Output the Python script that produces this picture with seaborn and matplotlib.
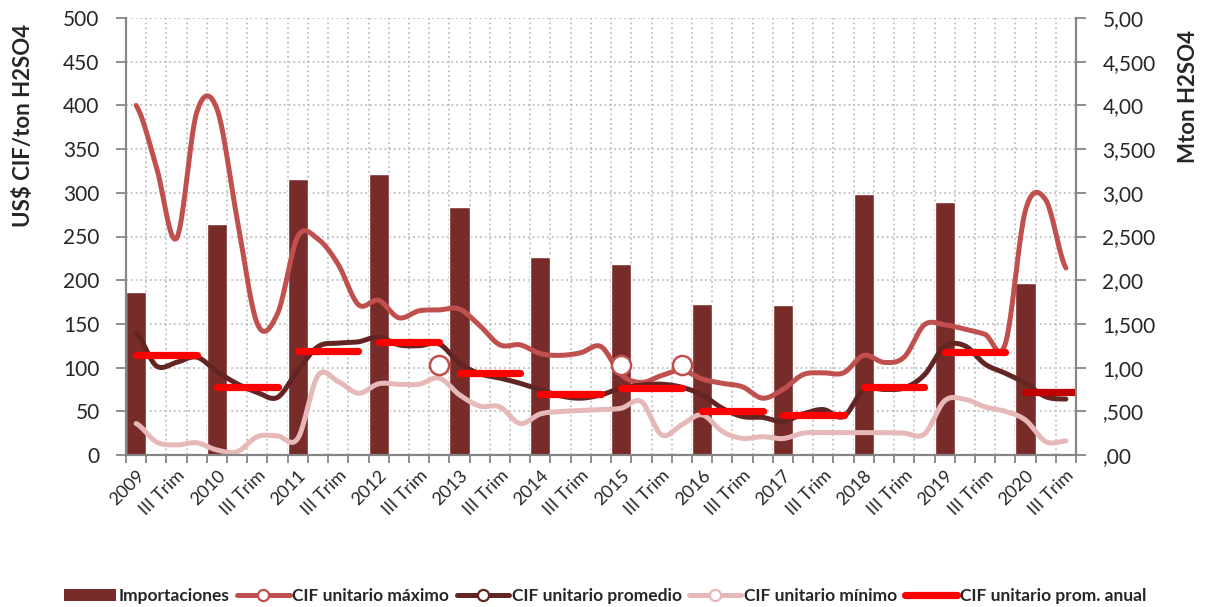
import numpy as np
import pandas as pd
import matplotlib
matplotlib.use("Agg")
import matplotlib.pyplot as plt
import seaborn as sns
from matplotlib.lines import Line2D
from matplotlib.patches import Patch
from matplotlib.ticker import FixedLocator

# ---------------------------------------------------------------
# data (47 quarters: I Trim 2009 .. III Trim 2020)
# ---------------------------------------------------------------
years = list(range(2009, 2021))
x_labels = []
for y in years:
    x_labels += [str(y), "III Trim"]

# annual imports, Mton H2SO4 (bar at I Trim of each year)
importaciones = [1.87, 2.64, 3.16, 3.21, 2.84, 2.26, 2.19, 1.73, 1.72, 2.99, 2.89, 1.97]

cif_max = [400, 330, 248, 392, 396, 270, 150, 162, 250, 247, 218, 172,
           177, 157, 165, 166, 167, 148, 126, 126, 116, 114, 117, 124,
           92, 83, 91, 97, 87, 82, 78, 65, 75, 92, 94, 94,
           114, 106, 112, 149, 149, 144, 138, 127, 280, 292, 214]
cif_prom = [139.5, 102, 106, 112, 95.5, 81.5, 71.6, 66, 97, 124, 128, 129.5,
            135, 126, 125, 127, 105, 93, 88, 82, 74.5, 67.6, 65, 68.8,
            76.5, 80, 81, 77.5, 68.8, 53.5, 44, 43, 38.3, 47, 52, 44,
            74.6, 75, 76.7, 91.7, 124, 125, 104, 93.6, 82, 66.7, 64]
cif_min = [36, 15, 11.5, 14, 5.7, 3.8, 21, 21.8, 19, 91, 84, 70.7,
           81.5, 81, 81, 88, 68.8, 56, 55, 36, 47, 49.7, 51, 52,
           53.5, 61, 23, 34.6, 46, 27, 19, 21, 18.8, 25, 25.6, 25.6,
           25.6, 25.6, 25, 24, 62, 63.8, 55, 50, 40, 15.3, 16]
cif_anual = [114.7, 77.6, 118.5, 129, 93.7, 70, 76.4, 50.5, 45.5, 78.3, 117.3, 72.6]

# stray point markers left in the original chart
marcadores_k = [15, 24, 27]
marcadores_v = [103, 103, 103]

right_labels = [",00", ",500", "1,00", "1,500", "2,00", "2,500",
                "3,00", "3,500", "4,00", "4,500", "5,00"]

n_q = len(cif_max)
bar_pos = [4 * i for i in range(len(years))]

C_BAR = "#772C2A"
C_MAX = "#C0504D"
C_PROM = "#632523"
C_MIN = "#E6B9B8"
C_ANUAL = "#FF0000"
C_ANUAL_LAST = "#C00000"
C_AXIS = "#868686"
C_GRID = "#BFBFBF"


def smooth(vals, n=20):
    """catmull-rom like Excel's smoothed line"""
    v = np.asarray(vals, float)
    p = np.concatenate([[v[0]], v, [v[-1]]])
    t = np.linspace(0, 1, n, endpoint=False)
    h00 = 2 * t**3 - 3 * t**2 + 1
    h10 = t**3 - 2 * t**2 + t
    h01 = -2 * t**3 + 3 * t**2
    h11 = t**3 - t**2
    xs, ys = [], []
    for i in range(len(v) - 1):
        p0, p1, p2, p3 = p[i], p[i + 1], p[i + 2], p[i + 3]
        m1 = (p2 - p0) / 2
        m2 = (p3 - p1) / 2
        ys.extend(h00 * p1 + h10 * m1 + h01 * p2 + h11 * m2)
        xs.extend(i + t)
    xs.append(len(v) - 1)
    ys.append(v[-1])
    return np.array(xs), np.array(ys)


sns.set_style("white")
plt.rcParams["font.family"] = ["Lato", "DejaVu Sans"]

fig = plt.figure(figsize=(12.06, 6.07), dpi=100)
L, R, T, B = 126 / 1206, 1076 / 1206, 1 - 18 / 607, 1 - 455 / 607
ax_b = fig.add_axes([L, B, R - L, T - B])
ax_l = ax_b.twinx()

# bars (right axis)
df_bar = pd.DataFrame({"k": bar_pos, "imp": importaciones})
sns.barplot(data=df_bar, x="k", y="imp", native_scale=True, width=0.25,
            color=C_BAR, saturation=1, errorbar=None, ax=ax_b, zorder=2)

# smoothed lines (left axis)
for vals, col in [(cif_max, C_MAX), (cif_prom, C_PROM), (cif_min, C_MIN)]:
    xs, ys = smooth(vals)
    sns.lineplot(x=xs, y=ys, ax=ax_l, color=col, lw=3.6, sort=False,
                 estimator=None, solid_capstyle="round")

# annual average segments
for i, v in enumerate(cif_anual):
    ks = [4 * i + q for q in range(4)]
    col = C_ANUAL_LAST if i == len(cif_anual) - 1 else C_ANUAL
    sns.lineplot(x=ks, y=[v] * 4, ax=ax_l, color=col, lw=5.2, sort=False,
                 estimator=None, solid_capstyle="round")

sns.scatterplot(x=marcadores_k, y=marcadores_v, ax=ax_l, s=190, color="white",
                edgecolor=C_MAX, linewidth=1.8, zorder=6)

# axes setup
ax_b.yaxis.tick_right()
ax_b.yaxis.set_label_position("right")
ax_l.yaxis.tick_left()
ax_l.yaxis.set_label_position("left")

ax_b.set_xlim(-0.5, n_q - 0.5)
ax_b.set_ylim(0, 5)
ax_l.set_ylim(0, 500)

ax_l.set_yticks(np.arange(0, 501, 50))
ax_b.set_yticks(np.arange(0, 5.01, 0.5))
ax_b.set_yticklabels(right_labels)

ax_b.set_xticks(np.arange(0, n_q, 2))
ax_b.set_xticklabels(x_labels, rotation=45, ha="right", rotation_mode="anchor")
ax_b.xaxis.set_minor_locator(FixedLocator(np.arange(-0.5, n_q, 1)))

ax_b.set_axisbelow(True)
ax_b.grid(True, axis="y", which="major", linestyle=":", color=C_GRID, lw=1.3)
ax_b.grid(True, axis="x", which="minor", linestyle=":", color=C_GRID, lw=1.3)
ax_b.grid(False, axis="x", which="major")

ax_b.tick_params(axis="x", which="major", length=0, pad=9, labelsize=13)
ax_b.tick_params(axis="x", which="minor", length=6, width=1.3, color=C_AXIS,
                 direction="out", bottom=True)
ax_b.tick_params(axis="y", length=7, width=1.3, color=C_AXIS, direction="out",
                 labelsize=15, pad=12)
ax_l.tick_params(axis="y", length=7, width=1.3, color=C_AXIS, direction="out",
                 labelsize=15, pad=12)

for a in (ax_b, ax_l):
    a.spines["top"].set_visible(False)
    for s in ("left", "right", "bottom"):
        a.spines[s].set_color(C_AXIS)
        a.spines[s].set_linewidth(1.5)
ax_b.set_xlabel("")

ax_l.set_ylabel("US$ CIF/ton H2SO4", fontsize=16, fontweight="bold")
ax_l.yaxis.set_label_coords(-0.097, 0.755)
ax_b.set_ylabel("Mton H2SO4", fontsize=16, fontweight="bold")
ax_b.yaxis.set_label_coords(1.107, 0.82)

# legend
handles = [
    Patch(facecolor=C_BAR, edgecolor="none"),
    Line2D([], [], color=C_MAX, lw=3.6, marker="o", ms=8, mfc="white", mec=C_MAX, mew=1.6),
    Line2D([], [], color=C_PROM, lw=3.6, marker="o", ms=8, mfc="white", mec=C_PROM, mew=1.6),
    Line2D([], [], color=C_MIN, lw=3.6, marker="o", ms=8, mfc="white", mec=C_MIN, mew=1.6),
    Line2D([], [], color=C_ANUAL, lw=5.2, solid_capstyle="round"),
]
labels = ["Importaciones", "CIF unitario máximo", "CIF unitario promedio",
          "CIF unitario mínimo", "CIF unitario prom. anual"]
fig.legend(handles, labels, loc="center", bbox_to_anchor=(0.5017, 1 - 596 / 607),
           ncol=5, frameon=False, prop=dict(weight="bold", size=12.5),
           handlelength=3.0, handletextpad=0.15, columnspacing=0.45)

fig.savefig("out.png", dpi=100)
